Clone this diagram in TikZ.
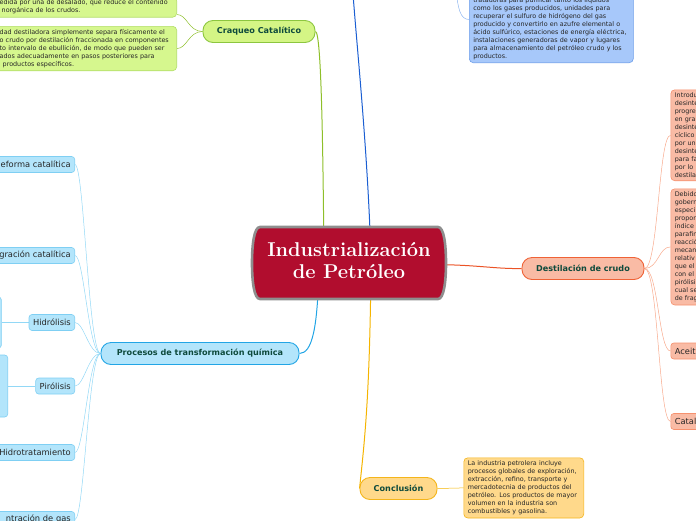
\documentclass[tikz,border=0pt]{standalone}
\usepackage{fontspec}
\newfontfamily\dvsans{DejaVu Sans}
\usetikzlibrary{backgrounds}

\definecolor{rootred}{HTML}{B10D2E}
\definecolor{rimgray}{HTML}{8E8E8E}
\definecolor{labtext}{HTML}{0E4A3C}
\definecolor{bodytext}{HTML}{262626}
\definecolor{grfill}{HTML}{D4F585}
\definecolor{grline}{HTML}{8CC63F}
\definecolor{grnote}{HTML}{D6F78E}
\definecolor{grnoteline}{HTML}{B2DE68}
\definecolor{grlink}{HTML}{8EBF2A}
\definecolor{bufill}{HTML}{A7C8FA}
\definecolor{buline}{HTML}{6E9FEA}
\definecolor{bulink}{HTML}{1A5ED2}
\definecolor{bulight}{HTML}{8DB5F0}
\definecolor{orfill}{HTML}{F9BBA5}
\definecolor{orline}{HTML}{EF6236}
\definecolor{ornoteline}{HTML}{F6916E}
\definecolor{orlink}{HTML}{EB5326}
\definecolor{orsub}{HTML}{F8A98C}
\definecolor{yefill}{HTML}{FFD98B}
\definecolor{yeline}{HTML}{F4B51B}
\definecolor{yelink}{HTML}{F5B400}
\definecolor{cyfill}{HTML}{B3E5FB}
\definecolor{cyline}{HTML}{22A5E5}
\definecolor{cyleaf}{HTML}{7FCFF3}
\definecolor{cysub}{HTML}{92D8F6}

\tikzset{
  topic/.style={draw, rounded corners=10pt, line width=0.9pt, text=labtext,
    font=\dvsans\bfseries\fontsize{8.1}{9}\selectfont, minimum height=22pt, inner sep=0pt},
  note/.style={draw, rounded corners=4pt, line width=0.6pt, text=bodytext,
    font=\dvsans\fontsize{6.4}{8}\selectfont, align=left, inner xsep=4pt, inner ysep=3pt},
  leaf/.style={draw, rounded corners=3pt, line width=0.6pt, text=bodytext,
    font=\dvsans\fontsize{8.3}{10}\selectfont, minimum height=16pt, inner xsep=4pt, inner ysep=0pt},
  branch/.style={line width=1pt},
  twig/.style={line width=0.5pt}
}

\begin{document}
\begin{tikzpicture}[x=1pt, y=-1pt]
    \useasboundingbox (0,0) rectangle (696,520);
    \clip (0,0) rectangle (696,520);

    % 1. Central topic
    \path[fill=rootred, draw=rimgray, line width=2.6pt]
        (260,227) -- (438,227) .. controls (444,227) and (446,245) .. (446,263)
        .. controls (446,281) and (444,299) .. (438,299) -- (260,299)
        .. controls (254,299) and (252,281) .. (252,263)
        .. controls (252,245) and (254,227) .. (260,227) -- cycle;
    \node[text=white, align=center, font=\bfseries\fontsize{20}{21.6}\selectfont]
        (root) at (349,260.5) {Industrialización\\de Petróleo};

    % 2. Main branches
    \node[topic, fill=grfill, draw=grline, minimum width=112pt] (craq) at (259,31.5) {Craqueo Catalítico};
    \node[topic, fill=orfill, draw=orline, minimum width=122pt] (dest) at (583,268.5) {Destilación de crudo};
    \node[topic, fill=yefill, draw=yeline, minimum width=77pt] (concl) at (398.5,488.5) {Conclusión};
    \node[topic, fill=cyfill, draw=cyline, minimum width=198pt] (proc) at (200,353.5) {Procesos de transformación química};

    % 3. Notes
    \node[note, fill=grnote, draw=grnoteline, text width=173pt, anchor=south east] (desal) at (177,17.5)
        {\mbox{edida por una de desalado, que reduce el contenido}\\
         \hspace*{2pt}norgánica de los crudos.};
    \node[note, fill=grnote, draw=grnoteline, text width=173pt, anchor=north east] (destil) at (177,26)
        {\mbox{dad destiladora simplemente separa físicamente el}\\
         \mbox{o crudo por destilación fraccionada en componentes}\\
         \mbox{to intervalo de ebullición, de modo que pueden ser}\\
         \mbox{ados adecuadamente en pasos posteriores para}\\
         \hspace*{3pt}productos específicos.};
    \node[note, fill=bufill, draw=buline, text width=156pt, anchor=south west] (serv) at (469,63)
        {\mbox{tratadoras para purificar tanto los líquidos}\\
         como los gases producidos, unidades para\\
         recuperar el sulfuro de hidrógeno del gas\\
         \mbox{producido y convertirlo en azufre elemental o}\\
         \mbox{ácido sulfúrico, estaciones de energía eléctrica,}\\
         \mbox{instalaciones generadoras de vapor y lugares}\\
         \mbox{para almacenamiento del petróleo crudo y los}\\
         productos.};
    \node[note, fill=orfill, draw=ornoteline, text width=60pt, anchor=north west] (desint) at (670.5,89.5)
        {Introdu\\desinte\\progre\\en gra\\desinte\\cíclico\\por un\\desinte\\para fa\\por lo\\destila};
    \node[note, fill=orfill, draw=ornoteline, text width=60pt, anchor=north west] (gober) at (670.5,188.5)
        {Debido\\gobern\\especi\\propor\\índice\\parafin\\reacció\\mecan\\relativ\\que el\\con el\\pirólisi\\cual se\\de frag};
    \node[leaf, fill=orfill, draw=ornoteline, anchor=west, text width=50pt, align=left] (aceit) at (670.5,351) {Aceit};
    \node[leaf, fill=orfill, draw=ornoteline, anchor=west, text width=50pt, align=left] (catal) at (670.5,421.5) {Catal};
    \node[note, fill=yefill, draw=yeline, text width=112pt, anchor=north west] (indus) at (463.5,457.5)
        {La industria petrolera incluye\\
         \mbox{procesos globales de exploración,}\\
         extracción, refino, transporte y\\
         mercadotecnia de productos del\\
         \mbox{petróleo. Los productos de mayor}\\
         volumen en la industria son\\
         combustibles y gasolina.};

    % 4. Chemical processes
    \node[leaf, fill=cyfill, draw=cyleaf, anchor=east] (refo) at (75,164.5) {eforma catalítica};
    \node[leaf, fill=cyfill, draw=cyleaf, anchor=east] (integ) at (75,255.5) {gración catalítica};
    \node[leaf, fill=cyfill, draw=cyleaf, anchor=east] (hidrol) at (75,322.5) {Hidrólisis};
    \node[leaf, fill=cyfill, draw=cyleaf, anchor=east] (pirol) at (75,386) {Pirólisis};
    \node[leaf, fill=cyfill, draw=cyleaf, anchor=east] (hidrot) at (75,452.5) {Hidrotratamiento};
    \node[leaf, fill=cyfill, draw=cyleaf, anchor=east, text width=71pt, align=right] (gas) at (75,519.5) {ntración de gas};
    \node[leaf, fill=cyfill, draw=cyleaf, anchor=east, minimum width=30pt, minimum height=51pt] (hidrolx) at (1.7,322.5) {};
    \node[leaf, fill=cyfill, draw=cyleaf, anchor=east, minimum width=30pt, minimum height=62pt] (pirolx) at (8,386) {};

    \coordinate (upper) at (352,-20);
    \coordinate (upperb) at (456,-10);

    % 5. Connectors
    \begin{scope}[on background layer]
        \draw[branch, grlink] (craq.east) .. controls +(6,0) and (323,150) .. ([xshift=-25pt]root.center);
        \draw[branch, bulink] ([xshift=22pt]root.center) .. controls (368,150) and (356,40) .. (upper);
        \draw[branch, orlink] ([yshift=-4pt]root.east) .. controls (480,265) and (495,269) .. (dest.west);
        \draw[branch, yelink] ([xshift=22pt]root.center) .. controls (370,400) and (364,445) .. (concl.west);
        \draw[branch, cyline] ([xshift=-30pt]root.center) .. controls (318,330) and (312,353) .. (proc.east);

        \draw[twig, grlink] (craq.west) .. controls +(-14,0) and +(10,0) .. ([yshift=3pt]desal.south east);
        \draw[twig, grlink] (craq.west) .. controls +(-14,0) and +(10,0) .. (destil.east);
        \draw[twig, bulight] ([yshift=9pt]serv.west) .. controls +(-9,0) and (458,8) .. (upperb);
        \draw[twig, yelink] (concl.east) -- (indus.west);
        \foreach \n in {desint,gober,aceit,catal}
            \draw[twig, orsub] (dest.east) .. controls +(14,0) and +(-12,0) .. (\n.west);
        \foreach \n in {refo,integ,hidrol,pirol,hidrot,gas}
            \draw[twig, cysub] (proc.west) .. controls +(-12,0) and +(9,0) .. (\n.east);
        \draw[twig, cysub] (hidrol.west) -- (hidrolx.east);
        \draw[twig, cysub] (pirol.west) -- (pirolx.east);
    \end{scope}
\end{tikzpicture}
\end{document}
